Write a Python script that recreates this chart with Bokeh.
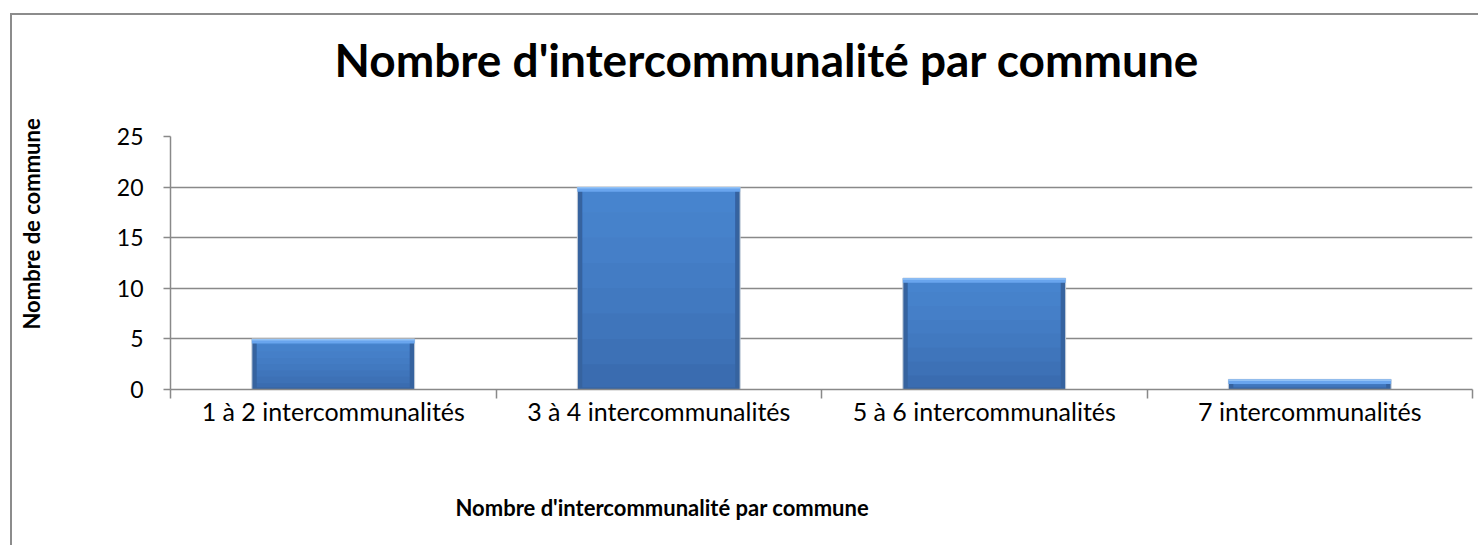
from bokeh.plotting import figure
from bokeh.models import FixedTicker, Range1d, Title
from bokeh.embed import file_html
from bokeh.resources import INLINE

# ---- data ----
categories = ["1 à 2 intercommunalités", "3 à 4 intercommunalités",
              "5 à 6 intercommunalités", "7 intercommunalités"]
values = [5, 20, 11, 1]
y_ticks = [0, 5, 10, 15, 20, 25]
chart_title = "Nombre d'intercommunalité par commune"
x_title = "Nombre d'intercommunalité par commune"
y_title = "Nombre de commune"

n = len(categories)
xs = [i + 0.5 for i in range(n)]
boundaries = list(range(n + 1))

GRAY = "#898989"
FONT = "Lato"

p = figure(width=1468, height=532,
           x_range=Range1d(0, n), y_range=Range1d(0, 25),
           output_backend="svg", toolbar_location=None,
           min_border_left=158, min_border_right=8,
           min_border_top=121, min_border_bottom=158)
p.margin = (13, 0, 0, 10)
p.styles = {"border-left": "2px solid #8c8c8c", "border-top": "2px solid #8c8c8c"}
p.outline_line_color = None
p.background_fill_color = "white"
p.border_fill_color = "white"
p.title.text = ""

# grid
p.xgrid.visible = False
p.ygrid.ticker = FixedTicker(ticks=y_ticks)
p.ygrid.grid_line_color = GRAY
p.ygrid.grid_line_width = 1.5

# y axis
ya = p.yaxis[0]
ya.ticker = FixedTicker(ticks=y_ticks)
ya.axis_line_color = GRAY
ya.axis_line_width = 1.5
ya.major_tick_line_color = GRAY
ya.major_tick_line_width = 1.5
ya.major_tick_out = 7
ya.major_tick_in = 0
ya.minor_tick_line_color = None
ya.major_label_text_font = FONT
ya.major_label_text_font_size = "23px"
ya.major_label_text_color = "black"
ya.major_label_standoff = 20

# x axis
xa = p.xaxis[0]
xa.ticker = FixedTicker(ticks=xs, minor_ticks=boundaries)
xa.major_label_overrides = {x: c for x, c in zip(xs, categories)}
xa.axis_line_color = GRAY
xa.axis_line_width = 1.5
xa.major_tick_line_color = None
xa.major_tick_out = 0
xa.major_tick_in = 0
xa.minor_tick_line_color = GRAY
xa.minor_tick_line_width = 1.5
xa.minor_tick_out = 9
xa.minor_tick_in = 0
xa.major_label_text_font = FONT
xa.major_label_text_font_size = "25px"
xa.major_label_text_color = "black"
xa.major_label_standoff = -3

# bars (layered to imitate the bevelled gradient)
p.vbar(x=xs, top=values, width=0.5, bottom=0,
       fill_color="#36639f", line_color="#c3ccd8", line_width=1)
body_top = [v - 0.3 for v in values]
p.vbar(x=xs, top=body_top, bottom=0.2, width=0.47,
       fill_color="#3a6cb0", line_color=None)
for f in (0.875, 0.75, 0.625, 0.5, 0.375, 0.25, 0.125):
    p.vbar(x=xs, top=body_top, bottom=[v * f for v in values], width=0.47,
           fill_color="#5a9cf0", fill_alpha=0.1, line_color=None)
p.vbar(x=xs, top=values, bottom=[v - 0.45 for v in values], width=0.5,
       fill_color="#69a5ee", line_color=None)
p.vbar(x=xs, top=values, bottom=[v - 0.15 for v in values], width=0.5,
       fill_color="#92c2f6", line_color=None)


def spacer(standoff):
    return Title(text=" ", text_font_size="1px", standoff=standoff)


# chart title (above): spacer next to the frame, then the title
p.add_layout(spacer(46), "above")
p.add_layout(Title(text=chart_title, align="left", offset=164,
                   vertical_align="bottom", standoff=2,
                   text_font=FONT, text_font_style="bold",
                   text_font_size="46px", text_color="black"), "above")

# x axis title (below)
p.add_layout(spacer(61), "below")
p.add_layout(Title(text=x_title, align="left", offset=285,
                   vertical_align="top", standoff=2,
                   text_font=FONT, text_font_style="bold",
                   text_font_size="22px", text_color="black"), "below")

# y axis title (left)
p.add_layout(spacer(65), "left")
p.add_layout(Title(text=y_title, align="left", offset=60,
                   vertical_align="bottom", standoff=2,
                   text_font=FONT, text_font_style="bold",
                   text_font_size="22px", text_color="black"), "left")

open("out.html", "w").write(file_html(p, INLINE))
